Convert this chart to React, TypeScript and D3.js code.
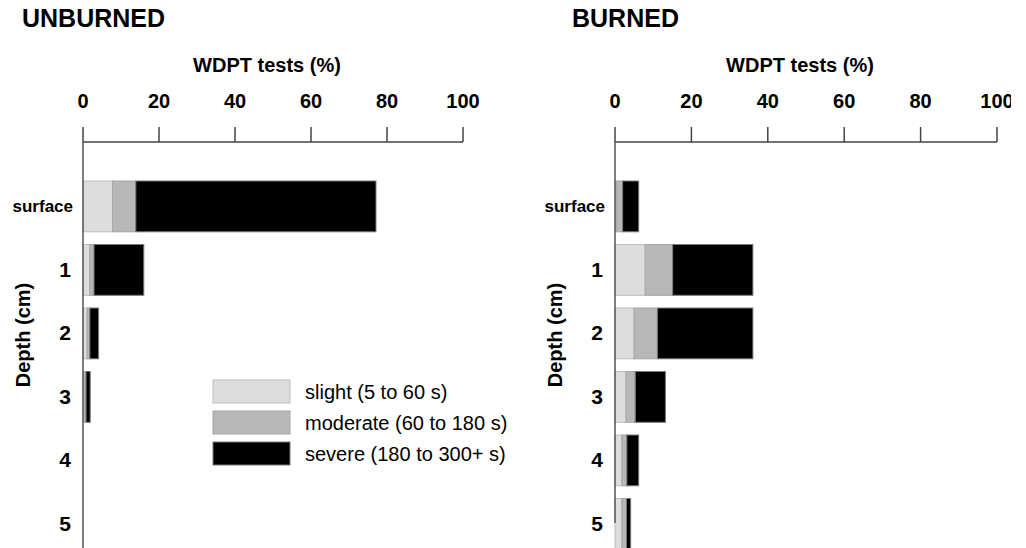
import * as d3 from "d3";
import React from "react";

// depth classes (y categories)
const depths = ["surface", "1", "2", "3", "4", "5"];
const xTicks = [0, 20, 40, 60, 80, 100];

// WDPT classes
const classKeys = ["slight", "moderate", "severe"];
const classLabels = ["slight (5 to 60 s)", "moderate (60 to 180 s)", "severe (180 to 300+ s)"];

// % of tests per class, unburned plots
const unburnedSlight = [7.8, 1.8, 1.1, 0.5, 0, 0];
const unburnedModerate = [6.1, 1.1, 0.7, 0.3, 0, 0];
const unburnedSevere = [63.2, 13.1, 2.3, 1.1, 0, 0];

// % of tests per class, burned plots
const burnedSlight = [0.3, 7.9, 5.0, 2.9, 1.8, 1.8];
const burnedModerate = [1.7, 7.2, 6.1, 2.4, 1.3, 1.2];
const burnedSevere = [4.2, 21.0, 25.0, 7.9, 3.1, 1.1];

const FONT = "'Liberation Sans', Arial, Helvetica, sans-serif";

const fills: Record<string, string> = {
  slight: "#dddddd",
  moderate: "url(#modPattern)",
  severe: "#000000",
};
const strokes: Record<string, string> = {
  slight: "#bdbdbd",
  moderate: "#a5a5a5",
  severe: "#7a7a7a",
};

type Row = { depth: string; slight: number; moderate: number; severe: number };

function buildRows(s: number[], m: number[], v: number[]): Row[] {
  return depths.map((d, i) => ({ depth: d, slight: s[i], moderate: m[i], severe: v[i] }));
}

const y = d3
  .scaleBand<string>()
  .domain(depths)
  .range([174.65, 555.65])
  .paddingInner(0.2)
  .paddingOuter(0.1);

interface PanelProps {
  title: string;
  rows: Row[];
  x0: number;
  x1: number;
  axisBottom: number;
  titleX: number;
  clipId?: string;
  legend?: boolean;
}

const Panel: React.FC<PanelProps> = ({ title, rows, x0, x1, axisBottom, titleX, clipId, legend }) => {
  const x = d3.scaleLinear().domain([0, 100]).range([x0, x1]);
  const stack = d3.stack<Row>().keys(classKeys)(rows);
  const axisY = 142;

  return (
    <g>
      {/* panel title */}
      <text x={titleX} y={27} fontSize={25} fontWeight="bold" fontFamily={FONT}>
        {title}
      </text>

      {/* x axis title */}
      <text x={(x0 + x1) / 2 - 6} y={72} fontSize={20} fontWeight="bold" textAnchor="middle" fontFamily={FONT}>
        WDPT tests (%)
      </text>

      {/* x tick labels */}
      <g clipPath={clipId ? `url(#${clipId})` : undefined}>
        {xTicks.map((t) => (
          <text key={t} x={x(t)} y={108} fontSize={20} fontWeight="bold" textAnchor="middle" fontFamily={FONT}>
            {t}
          </text>
        ))}
      </g>

      {/* bars */}
      {stack.map((layer) => (
        <g key={layer.key}>
          {layer.map((d, i) =>
            d[1] - d[0] > 0 ? (
              <rect
                key={i}
                x={x(d[0])}
                y={y(d.data.depth)}
                width={x(d[1]) - x(d[0])}
                height={y.bandwidth()}
                fill={fills[layer.key]}
                stroke={strokes[layer.key]}
                strokeWidth={1}
              />
            ) : null
          )}
        </g>
      ))}

      {/* x axis with ticks pointing up */}
      <line x1={x(0)} x2={x(100)} y1={axisY} y2={axisY} stroke="#444" strokeWidth={1.5} />
      {xTicks.map((t) => (
        <line key={t} x1={x(t)} x2={x(t)} y1={axisY - 15} y2={axisY} stroke="#444" strokeWidth={1.5} />
      ))}

      {/* y axis */}
      <line x1={x(0)} x2={x(0)} y1={axisY} y2={axisBottom} stroke="#555" strokeWidth={1.5} />

      {/* depth labels */}
      {depths.map((d) => (
        <text
          key={d}
          x={x(0) - (d === "surface" ? 10 : 12)}
          y={(y(d) ?? 0) + y.bandwidth() / 2 + (d === "surface" ? 6 : 7)}
          fontSize={d === "surface" ? 17 : 21}
          fontWeight="bold"
          textAnchor="end"
          fontFamily={FONT}
        >
          {d}
        </text>
      ))}

      {/* y axis title */}
      <text
        transform={`translate(${x(0) - 60},335) rotate(-90)`}
        fontSize={20}
        fontWeight="bold"
        textAnchor="middle"
        dominantBaseline="central"
        fontFamily={FONT}
      >
        Depth (cm)
      </text>

      {legend && (
        <g transform="translate(213,380)">
          {classKeys.map((k, i) => (
            <g key={k} transform={`translate(0,${i * 31})`}>
              <rect x={0} y={0} width={77} height={23} fill={fills[k]} stroke={strokes[k]} strokeWidth={1} />
              <text x={92} y={11.5} fontSize={20} dominantBaseline="central" fontFamily={FONT}>
                {classLabels[i]}
              </text>
            </g>
          ))}
        </g>
      )}
    </g>
  );
};

export default function App() {
  const unburned = buildRows(unburnedSlight, unburnedModerate, unburnedSevere);
  const burned = buildRows(burnedSlight, burnedModerate, burnedSevere);
  return (
    <svg
      width={1026}
      height={548}
      viewBox="0 0 1026 548"
      style={{ position: "absolute", left: 0, top: 0, background: "#fff" }}
    >
      <defs>
        <pattern id="modPattern" width={2} height={2} patternUnits="userSpaceOnUse">
          <rect width={2} height={2} fill="#bcbcbc" />
          <rect x={0} y={0} width={1} height={1} fill="#b1b1b1" />
          <rect x={1} y={1} width={1} height={1} fill="#b4b4b4" />
        </pattern>
        <clipPath id="rightClip">
          <rect x={0} y={0} width={1011} height={548} />
        </clipPath>
      </defs>
      <rect width={1026} height={548} fill="#fff" />
      <Panel title="UNBURNED" rows={unburned} x0={83} x1={463} axisBottom={548} titleX={22} legend />
      <Panel title="BURNED" rows={burned} x0={615} x1={997} axisBottom={523} titleX={572} clipId="rightClip" />
    </svg>
  );
}
